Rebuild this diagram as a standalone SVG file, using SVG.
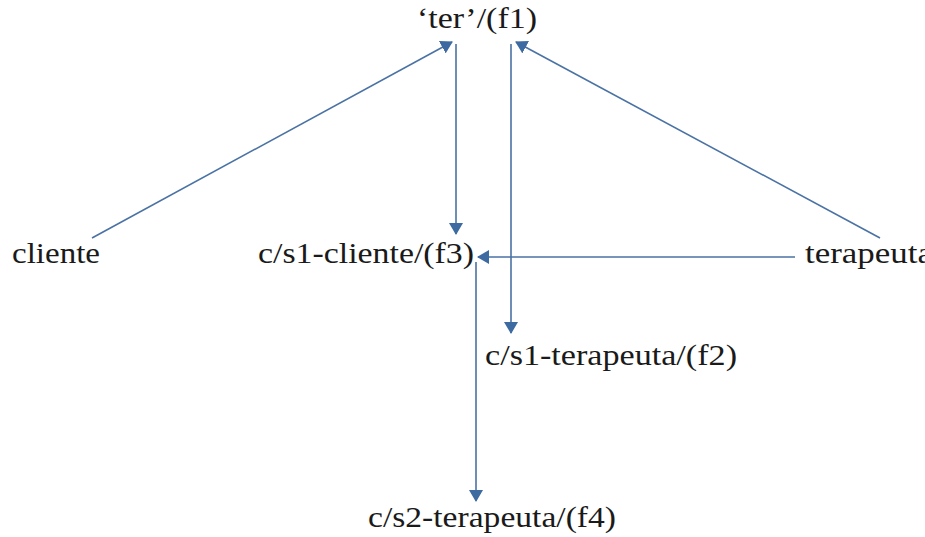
<svg xmlns="http://www.w3.org/2000/svg" width="925" height="537" viewBox="0 0 925 537">
<style>
.lbl{font-family:"Liberation Serif","Times New Roman",serif;font-size:30px;fill:#1a1a1a}
.ln{stroke:#4a72a4;stroke-width:1.6;fill:none;marker-end:url(#ah)}
</style>
<defs>
<marker id="ah" viewBox="0 0 12 14" refX="11" refY="7" markerWidth="12" markerHeight="14" markerUnits="userSpaceOnUse" orient="auto">
<path d="M0,0 L12,7 L0,14 z" fill="#3d6aa0"/>
</marker>
</defs>
<rect width="925" height="537" fill="#ffffff"/>
<g id="connectors">
<line class="ln" x1="92" y1="238" x2="452" y2="42"/>
<line class="ln" x1="456" y1="44" x2="456" y2="234"/>
<line class="ln" x1="511" y1="44" x2="511" y2="333"/>
<line class="ln" x1="880" y1="238" x2="516" y2="42"/>
<line class="ln" x1="795" y1="257" x2="478" y2="257"/>
<line class="ln" x1="476" y1="262" x2="476" y2="501"/>
</g>
<g id="n_ter"><text class="lbl" x="417" y="28" textLength="120" lengthAdjust="spacingAndGlyphs">‘ter’/(f1)</text></g>
<g id="n_cliente"><text class="lbl" x="12" y="263" textLength="88" lengthAdjust="spacingAndGlyphs">cliente</text></g>
<g id="n_f3"><text class="lbl" x="258" y="263" textLength="216" lengthAdjust="spacingAndGlyphs">c/s1-cliente/(f3)</text></g>
<g id="n_terapeuta"><text class="lbl" x="805" y="263" textLength="128" lengthAdjust="spacingAndGlyphs">terapeuta</text></g>
<g id="n_f2"><text class="lbl" x="485" y="365" textLength="252" lengthAdjust="spacingAndGlyphs">c/s1-terapeuta/(f2)</text></g>
<g id="n_f4"><text class="lbl" x="368" y="527" textLength="248" lengthAdjust="spacingAndGlyphs">c/s2-terapeuta/(f4)</text></g>
</svg>
